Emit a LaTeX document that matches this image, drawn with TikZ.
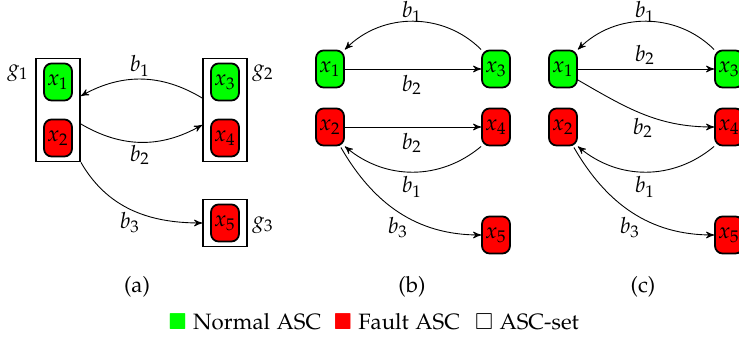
\documentclass[tikz,border=0pt]{standalone}
\usepackage[T1]{fontenc}
\usepackage{amssymb}
\usepackage{amsmath}
\usepackage[sc]{mathpazo}
\usepackage{tikz}
\usetikzlibrary{arrows}
\usetikzlibrary{calc}
\usetikzlibrary{fit}
\tikzstyle{asc} = [draw,line width=0.8pt,rounded corners=3.5pt,minimum width=12.6pt,minimum height=16.7pt,inner sep=0pt]
\tikzstyle{ascnorm} = [asc,fill=green]
\tikzstyle{ascfault} = [asc,fill=red]
\tikzstyle{ascset} = [draw,line width=0.8pt,inner xsep=3.2pt,inner ysep=1.8pt]
\tikzstyle{link} = [->,>=stealth',thin]

\begin{document}
\begin{tikzpicture}[x=0.45pt,y=0.45pt]
\useasboundingbox (0,0) rectangle (739,-342);

% (a) ASC-sets
\draw(58,-82) node[ascnorm] (a1) {$x_1$};
\draw(58,-138) node[ascfault] (a2) {$x_2$};
\draw(225,-82) node[ascnorm] (a3) {$x_3$};
\draw(225,-138) node[ascfault] (a4) {$x_4$};
\draw(225,-223) node[ascfault] (a5) {$x_5$};
\node[ascset,fit=(a1)(a2)] (g1) {};
\node[ascset,fit=(a3)(a4)] (g2) {};
\node[ascset,fit=(a5)] (g3) {};
\draw(18,-73) node (lg1) {$g_1$};
\draw(263,-73) node (lg2) {$g_2$};
\draw(263,-225) node (lg3) {$g_3$};

\draw[link] ($(g2.west)+(0,12)$) to[bend right=30] ($(g1.east)+(0,14)$);
\draw[link] ($(g1.east)+(0,-14)$) to[bend right=30] ($(g2.west)+(0,-15)$);
\draw[link] (g1.south east) to[out=-60,in=180] (g3.west);
\draw(140,-66) node (la1) {$b_1$};
\draw(140,-155) node (la2) {$b_2$};
\draw(130,-223) node (la3) {$b_3$};
\draw(137,-287) node (cap1) {(a)};

% (b)
\draw(330,-69) node[ascnorm] (bx1) {$x_1$};
\draw(330,-127) node[ascfault] (bx2) {$x_2$};
\draw(496,-69) node[ascnorm] (bx3) {$x_3$};
\draw(496,-127) node[ascfault] (bx4) {$x_4$};
\draw(496,-235) node[ascfault] (bx5) {$x_5$};

\draw[link] (bx3.north west) to[bend right=45] (bx1.north east);
\draw[link] (bx1) -- (bx3);
\draw[link] (bx2) -- (bx4);
\draw[link] (bx4.south west) to[bend left=40] (bx2.south east);
\draw[link] ($(bx2.south east)+(-4,-1)$) to[out=-60,in=180] (bx5.west);
\draw(412,-12) node (lb1) {$b_1$};
\draw(412,-85) node (lb2) {$b_2$};
\draw(412,-143) node (lb3) {$b_2$};
\draw(412,-187) node (lb4) {$b_1$};
\draw(398,-228) node (lb5) {$b_3$};
\draw(412,-287) node (cap2) {(b)};

% (c)
\draw(563,-69) node[ascnorm] (cx1) {$x_1$};
\draw(563,-127) node[ascfault] (cx2) {$x_2$};
\draw(729,-69) node[ascnorm] (cx3) {$x_3$};
\draw(729,-127) node[ascfault] (cx4) {$x_4$};
\draw(729,-235) node[ascfault] (cx5) {$x_5$};

\draw[link] (cx3.north west) to[bend right=45] (cx1.north east);
\draw[link] (cx1) -- (cx3);
\draw[link] ($(cx1.east)+(0,-11)$) to[out=-30,in=180] (cx4.west);
\draw[link] (cx4.south west) to[bend left=40] (cx2.south east);
\draw[link] ($(cx2.south east)+(-4,-1)$) to[out=-60,in=180] (cx5.west);
\draw(645,-12) node (lc1) {$b_1$};
\draw(645,-55) node (lc2) {$b_2$};
\draw(643,-128) node (lc3) {$b_2$};
\draw(645,-187) node (lc4) {$b_1$};
\draw(630,-228) node (lc5) {$b_3$};
\draw(643,-287) node (cap3) {(c)};

% legend
\draw(245,-322) node (leg1) {\textcolor{green}{$\blacksquare$} Normal ASC};
\draw(397,-322) node (leg2) {\textcolor{red}{$\blacksquare$} Fault ASC};
\draw(527,-322) node (leg3) {$\square$ ASC-set};

\end{tikzpicture}
\end{document}
